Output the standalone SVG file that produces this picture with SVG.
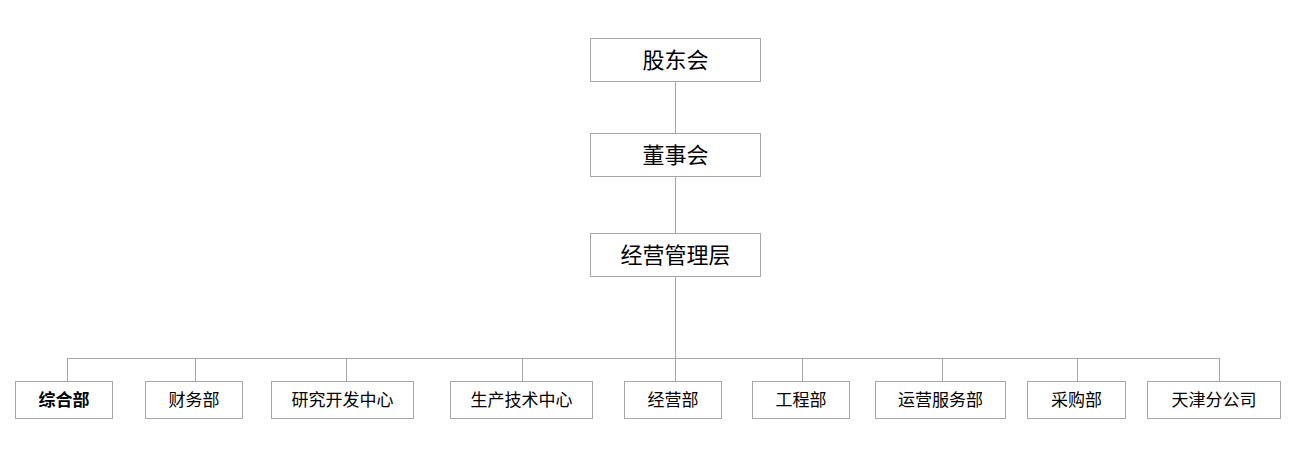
<svg xmlns="http://www.w3.org/2000/svg" width="1294" height="463" viewBox="0 0 1294 463">
<style>
rect{fill:#fff;stroke:#a6a6a6;stroke-width:1}
.c line{stroke:#a6a6a6;stroke-width:1}
text{font-family:"Noto Sans CJK SC",sans-serif;fill:#000;text-anchor:middle;dominant-baseline:central}
.b{font-size:22px}.s{font-size:17px}
</style>
<rect x="0" y="0" width="1294" height="463" style="stroke:none"/>
<g class="c">
<line x1="675.5" y1="81" x2="675.5" y2="133"/>
<line x1="675.5" y1="176" x2="675.5" y2="233"/>
<line x1="675.5" y1="276" x2="675.5" y2="381"/>
<line x1="67" y1="358.5" x2="1220" y2="358.5"/>
<line x1="67.5" y1="358" x2="67.5" y2="381"/>
<line x1="195.5" y1="358" x2="195.5" y2="381"/>
<line x1="346.5" y1="358" x2="346.5" y2="381"/>
<line x1="522.5" y1="358" x2="522.5" y2="381"/>
<line x1="802.5" y1="358" x2="802.5" y2="381"/>
<line x1="942.5" y1="358" x2="942.5" y2="381"/>
<line x1="1077.5" y1="358" x2="1077.5" y2="381"/>
<line x1="1219.5" y1="358" x2="1219.5" y2="381"/>
</g>
<g id="n1"><rect x="590.5" y="38.5" width="170" height="43"/><text class="b" x="675.5" y="58">股东会</text></g>
<g id="n2"><rect x="590.5" y="133.5" width="170" height="43"/><text class="b" x="675.5" y="153">董事会</text></g>
<g id="n3"><rect x="590.5" y="233.5" width="170" height="43"/><text class="b" x="675.5" y="253">经营管理层</text></g>
<g id="d1"><rect x="15.5" y="381.5" width="97" height="37"/><text class="s" x="64" y="398" font-weight="bold">综合部</text></g>
<g id="d2"><rect x="145.5" y="381.5" width="97" height="37"/><text class="s" x="194" y="398">财务部</text></g>
<g id="d3"><rect x="271.5" y="381.5" width="142" height="37"/><text class="s" x="342.5" y="398">研究开发中心</text></g>
<g id="d4"><rect x="450.5" y="381.5" width="142" height="37"/><text class="s" x="521.5" y="398">生产技术中心</text></g>
<g id="d5"><rect x="624.5" y="381.5" width="97" height="37"/><text class="s" x="673" y="398">经营部</text></g>
<g id="d6"><rect x="752.5" y="381.5" width="97" height="37"/><text class="s" x="801" y="398">工程部</text></g>
<g id="d7"><rect x="875.5" y="381.5" width="130" height="37"/><text class="s" x="940.5" y="398">运营服务部</text></g>
<g id="d8"><rect x="1027.5" y="381.5" width="98" height="37"/><text class="s" x="1076.5" y="398">采购部</text></g>
<g id="d9"><rect x="1147.5" y="381.5" width="133" height="37"/><text class="s" x="1214" y="398">天津分公司</text></g>
</svg>
